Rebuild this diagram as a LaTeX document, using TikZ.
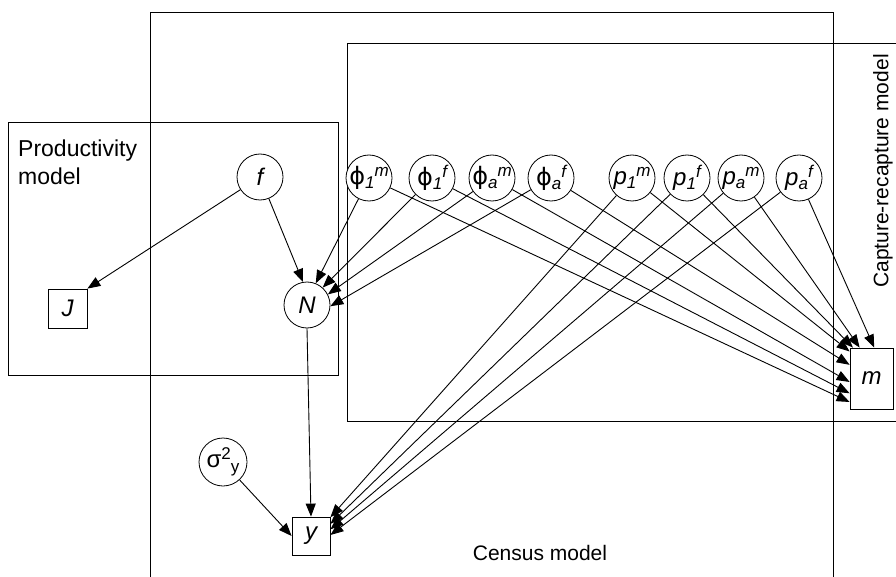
\documentclass[tikz,border=0pt]{standalone}
\usepackage{fontspec}
\setmainfont{Liberation Sans}
\newfontfamily\grk{DejaVu Sans}
\usetikzlibrary{arrows.meta}
\newcommand{\bigsz}{\fontsize{24}{28}\selectfont}
\newcommand{\smsz}{\fontsize{17}{20}\selectfont}
\newcommand{\psym}[3]{#1\raisebox{-4pt}{\smsz\itshape #2}\raisebox{8pt}{\smsz\itshape #3}}
\newcommand{\phisym}{{\grk ϕ}}
\tikzset{
  var/.style={circle,draw,fill=white,minimum size=46pt,inner sep=0pt,font=\bigsz,line width=0.8pt},
  obs/.style={rectangle,draw,fill=white,inner sep=0pt,font=\bigsz\itshape,line width=0.8pt},
  link/.style={-{Triangle[length=13pt,width=10pt]},line width=0.9pt},
  plate/.style={line width=1pt},
  lab/.style={font=\fontsize{21}{25}\selectfont,inner sep=0pt}
}
\begin{document}
\begin{tikzpicture}[x=1pt,y=-1pt]
\useasboundingbox (0,0) rectangle (896,577);
% plates
\draw[plate] (150,578) -- (150,13) -- (833,13) -- (833,578);
\draw[plate] (897,44) -- (347,44) -- (347,421) -- (897,421);
\draw[plate] (8,123) rectangle (338,375);
% labels
\node[lab,font=\fontsize{23}{28}\selectfont,anchor=north west,align=left] (prodlab) at (18,140) {Productivity\\model};
\node[lab] (censlab) at (540,553) {Census model};
\node[lab,rotate=90] (caplab) at (883,171) {Capture-recapture model};
% nodes
\node[var] (f) at (260,177) {\itshape f};
\node[var] (N) at (307,305) {\itshape N};
\node[obs,minimum width=39pt,minimum height=39pt] (J) at (67.5,308.5) {J};
\node[var] (phi1m) at (369,178) {\psym{\phisym}{1}{m}};
\node[var] (phi1f) at (432,178) {\psym{\phisym}{1}{f}};
\node[var] (phiam) at (492,178) {\psym{\phisym}{a}{m}};
\node[var] (phiaf) at (551,178) {\psym{\phisym}{a}{f}};
\node[var] (p1m) at (632,178) {\psym{\itshape p}{1}{m}};
\node[var] (p1f) at (687,178) {\psym{\itshape p}{1}{f}};
\node[var] (pam) at (741,178) {\psym{\itshape p}{a}{m}};
\node[var] (paf) at (799,178) {\psym{\itshape p}{a}{f}};
\node[obs,minimum width=43pt,minimum height=61pt] (m) at (871.5,378.5) {m};
\node[obs,minimum width=38pt,minimum height=38pt] (y) at (311,536) {y};
\node[var,minimum size=48pt] (sig) at (223,462) {σ\raisebox{8pt}{\smsz 2}\raisebox{-5pt}{\smsz y}};
% connectors
\draw[link] (f) -- (J.north east);
\draw[link] (f) -- (N.100);
\draw[link] (phi1m) -- (N.68);
\draw[link] (phi1f) -- (N.48);
\draw[link] (phiam) -- (N.27);
\draw[link] (phiaf) -- (N.-3);
\draw[link] (N.south) -- (y.north);
\draw[link] (sig) -- (y.west);
\draw[link] (p1m) -- (y.44);
\draw[link] (p1f) -- (y.32);
\draw[link] (pam) -- (y.19);
\draw[link] (paf) -- (y.3);
\draw[link] (phi1m) -- (m.227);
\draw[link] (phi1f) -- (m.214);
\draw[link] (phiam) -- (m.189);
\draw[link] (phiaf) -- (m.148);
\draw[link] (p1m) -- (m.129);
\draw[link] (p1f) -- (m.121);
\draw[link] (pam) -- (m.111);
\draw[link] (paf) -- (m.85);
\end{tikzpicture}
\end{document}
